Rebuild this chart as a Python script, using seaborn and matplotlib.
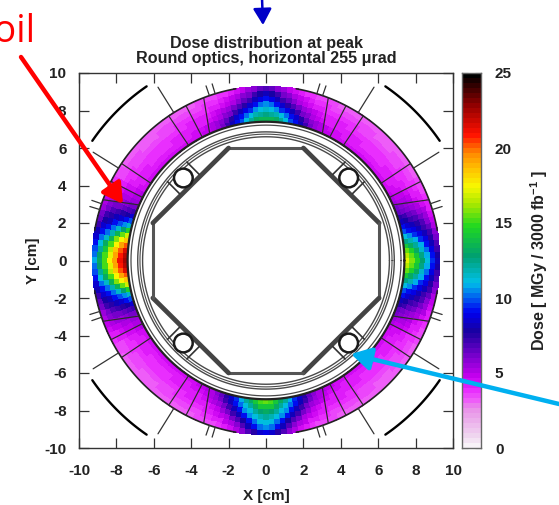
import numpy as np
import matplotlib

matplotlib.use("Agg")
import matplotlib.pyplot as plt
import seaborn as sns
from matplotlib.colors import LinearSegmentedColormap
from matplotlib.projections.polar import PolarTransform
from matplotlib.transforms import Affine2D

# dose, MGy / 3000 fb-1
# rows go from inner to outer radius, columns from 0 to 44 deg away from the lobe axis
left_lobe = [
    [22.5, 22.3, 21.5, 20.3, 18.6, 16.8, 14.5, 11.5, 9.8, 8.4, 7.0, 6.2, 5.6, 5.2, 5.0, 4.6, 4.5, 4.5, 4.4, 4.4, 4.4, 4.4, 4.4],
    [21.0, 20.8, 20.2, 19.0, 17.5, 15.4, 12.8, 10.6, 9.2, 7.9, 6.8, 6.0, 5.5, 5.1, 4.8, 4.4, 4.3, 4.3, 4.2, 4.2, 4.2, 4.1, 4.1],
    [19.3, 19.1, 18.5, 17.5, 15.9, 13.6, 11.4, 9.8, 8.6, 7.5, 6.5, 5.8, 5.3, 4.9, 4.6, 4.2, 4.1, 4.1, 4.0, 4.0, 3.9, 3.9, 3.9],
    [17.5, 17.2, 16.5, 15.2, 13.5, 11.7, 10.2, 9.0, 8.0, 7.1, 6.2, 5.6, 5.1, 4.7, 4.4, 4.0, 3.9, 3.9, 3.8, 3.8, 3.7, 3.7, 3.7],
    [15.3, 15.0, 14.2, 13.0, 11.5, 10.3, 9.3, 8.3, 7.5, 6.7, 6.0, 5.4, 4.9, 4.5, 4.2, 3.8, 3.7, 3.7, 3.6, 3.6, 3.5, 3.5, 3.5],
    [13.2, 12.8, 12.0, 11.0, 10.0, 9.2, 8.4, 7.7, 7.0, 6.3, 5.7, 5.1, 4.7, 4.3, 4.0, 3.6, 3.5, 3.5, 3.4, 3.4, 3.4, 3.3, 3.3],
    [10.8, 10.3, 9.8, 9.2, 8.6, 8.0, 7.2, 6.5, 6.0, 5.5, 5.1, 4.7, 4.4, 4.1, 3.9, 3.5, 3.4, 3.3, 3.2, 3.2, 3.1, 3.1, 3.1],
]
right_lobe = [
    [17.0, 16.6, 15.6, 14.2, 12.6, 11.0, 9.8, 9.0, 8.2, 7.4, 6.6, 6.0, 5.5, 5.1, 4.8, 4.6, 4.5, 4.5, 4.4, 4.4, 4.4, 4.4, 4.4],
    [15.8, 15.4, 14.4, 13.2, 11.8, 10.4, 9.3, 8.5, 7.7, 7.0, 6.3, 5.7, 5.2, 4.9, 4.6, 4.4, 4.3, 4.3, 4.2, 4.2, 4.2, 4.1, 4.1],
    [14.5, 14.0, 13.2, 12.0, 10.8, 9.6, 8.8, 8.0, 7.2, 6.5, 5.9, 5.4, 5.0, 4.7, 4.4, 4.2, 4.1, 4.1, 4.0, 4.0, 3.9, 3.9, 3.9],
    [12.8, 12.4, 11.6, 10.7, 9.6, 8.8, 8.1, 7.4, 6.7, 6.0, 5.5, 5.0, 4.7, 4.4, 4.2, 4.0, 3.9, 3.9, 3.8, 3.8, 3.7, 3.7, 3.7],
    [11.2, 10.8, 10.0, 9.3, 8.7, 8.0, 7.3, 6.7, 6.0, 5.5, 5.0, 4.6, 4.3, 4.1, 3.9, 3.8, 3.7, 3.7, 3.6, 3.6, 3.5, 3.5, 3.5],
    [9.5, 9.2, 8.7, 8.2, 7.6, 7.0, 6.4, 5.9, 5.4, 5.0, 4.6, 4.3, 4.0, 3.9, 3.7, 3.6, 3.5, 3.5, 3.4, 3.4, 3.4, 3.3, 3.3],
    [8.0, 7.7, 7.3, 6.8, 6.3, 5.8, 5.3, 4.9, 4.5, 4.2, 4.0, 3.8, 3.6, 3.5, 3.4, 3.3, 3.3, 3.2, 3.2, 3.2, 3.1, 3.1, 3.1],
]
top_lobe = [
    [13.5, 13.4, 13.0, 12.0, 11.0, 9.8, 9.0, 8.0, 7.0, 6.2, 5.6, 5.2, 4.9, 4.7, 4.6, 4.6, 4.5, 4.5, 4.4, 4.4, 4.4, 4.4, 4.4],
    [12.5, 12.3, 11.8, 11.0, 10.0, 9.3, 8.4, 7.4, 6.6, 5.9, 5.4, 5.0, 4.7, 4.5, 4.4, 4.4, 4.3, 4.3, 4.2, 4.2, 4.2, 4.1, 4.1],
    [11.6, 11.2, 10.5, 9.6, 8.9, 8.0, 7.1, 6.3, 5.7, 5.2, 4.8, 4.5, 4.3, 4.2, 4.2, 4.2, 4.1, 4.1, 4.0, 4.0, 3.9, 3.9, 3.9],
    [10.6, 10.0, 9.3, 8.5, 7.6, 6.8, 6.1, 5.5, 5.0, 4.7, 4.4, 4.2, 4.1, 4.0, 4.0, 4.0, 3.9, 3.9, 3.8, 3.8, 3.7, 3.7, 3.7],
    [9.3, 8.9, 8.1, 7.3, 6.5, 5.9, 5.3, 4.9, 4.5, 4.3, 4.1, 3.9, 3.8, 3.8, 3.8, 3.8, 3.7, 3.7, 3.6, 3.6, 3.5, 3.5, 3.5],
    [8.2, 7.8, 7.1, 6.3, 5.7, 5.1, 4.7, 4.4, 4.1, 3.9, 3.8, 3.7, 3.6, 3.6, 3.6, 3.6, 3.5, 3.5, 3.4, 3.4, 3.4, 3.3, 3.3],
    [6.8, 6.4, 5.9, 5.4, 4.9, 4.5, 4.2, 3.9, 3.7, 3.6, 3.5, 3.4, 3.4, 3.3, 3.3, 3.3, 3.3, 3.2, 3.2, 3.2, 3.1, 3.1, 3.1],
]
bottom_lobe = [
    [15.5, 15.0, 14.0, 13.0, 12.0, 10.8, 9.6, 8.6, 7.6, 6.6, 5.8, 5.3, 5.0, 4.8, 4.7, 4.6, 4.5, 4.5, 4.4, 4.4, 4.4, 4.4, 4.4],
    [14.3, 14.0, 13.2, 12.2, 11.2, 10.1, 9.0, 8.0, 7.0, 6.1, 5.5, 5.0, 4.7, 4.5, 4.4, 4.4, 4.3, 4.3, 4.2, 4.2, 4.2, 4.1, 4.1],
    [13.2, 12.9, 12.2, 11.3, 10.4, 9.3, 8.2, 7.2, 6.2, 5.5, 5.0, 4.7, 4.4, 4.3, 4.2, 4.2, 4.1, 4.1, 4.0, 4.0, 3.9, 3.9, 3.9],
    [12.0, 11.7, 11.0, 10.4, 9.2, 8.1, 7.0, 6.0, 5.4, 4.9, 4.5, 4.3, 4.1, 4.0, 4.0, 4.0, 3.9, 3.9, 3.8, 3.8, 3.7, 3.7, 3.7],
    [11.3, 11.0, 10.3, 9.2, 7.9, 6.9, 6.0, 5.3, 4.8, 4.5, 4.2, 4.0, 3.9, 3.8, 3.8, 3.8, 3.7, 3.7, 3.6, 3.6, 3.5, 3.5, 3.5],
    [10.6, 10.2, 9.2, 8.0, 6.9, 5.9, 5.2, 4.7, 4.3, 4.0, 3.8, 3.7, 3.6, 3.6, 3.6, 3.6, 3.5, 3.5, 3.4, 3.4, 3.4, 3.3, 3.3],
    [8.8, 8.4, 7.6, 6.7, 5.8, 5.1, 4.5, 4.1, 3.8, 3.6, 3.5, 3.4, 3.4, 3.3, 3.3, 3.3, 3.3, 3.2, 3.2, 3.2, 3.1, 3.1, 3.1],
]

axis_ticks = [-10, -8, -6, -4, -2, 0, 2, 4, 6, 8, 10]
dose_ticks = [0, 5, 10, 15, 20, 25]

# palette stops
palette_values = [0, 0.5, 2.5, 3.0, 3.8, 4.6, 5.9, 7.7, 9, 10, 11, 12.8, 14.8, 16.3, 17.5, 18.7, 19.7, 21, 23, 25]
palette_colors = [
    "#f8f2f8", "#f0dcf0", "#e890e8", "#ee60f8", "#e828ff", "#c800f0", "#8000d0", "#1800a0", "#0000f0",
    "#0060f0", "#00c0e8", "#00a070", "#20d820", "#a8e800", "#f8f800", "#ffc000", "#ff8c00",
    "#ff1000", "#900000", "#000000",
]

R_IN, R_OUT = 7.4, 9.3
ANGLE_STEP = 2.0
FRAME = "#333333"
STEEL = "#4a4a4a"
INK = "#222222"
FONT_SIZE = 11.0


def mirror(lobe):
    lobe = np.array(lobe)
    return np.hstack([lobe[:, :0:-1], lobe])


def pol(r, deg):
    return r * np.cos(np.radians(deg)), r * np.sin(np.radians(deg))


def quadrant_angles(deg):
    return [deg, 180 - deg, 180 + deg, 360 - deg]


def draw_ring(ax, dose, cmap):
    # heatmap columns are angle bins, rows radial bins: bend the grid round the bore
    sns.heatmap(dose, ax=ax, cmap=cmap, vmin=0, vmax=25, cbar=False,
                xticklabels=False, yticklabels=False, rasterized=True)
    dr = (R_OUT - R_IN) / dose.shape[0]
    bend = (
        Affine2D().scale(np.radians(ANGLE_STEP), dr).translate(np.radians(-45), R_IN)
        + PolarTransform(apply_theta_transforms=False)
        + ax.transData
    )
    ax.collections[0].set_transform(bend)
    ax.collections[0].set_zorder(1)


def draw_structure(ax):
    t = np.radians(np.linspace(0, 360, 361))
    for r, lw, color in [(R_IN, 1.6, "#222222"), (7.22, 0.9, STEEL), (6.86, 1.0, STEEL),
                         (6.74, 0.8, STEEL), (6.6, 1.0, STEEL)]:
        ax.plot(r * np.cos(t), r * np.sin(t), color=color, lw=lw, zorder=3)

    # outer outline of the ring, open where the lobes sit
    for centre in [0, 90, 180, 270]:
        t = np.radians(np.linspace(centre + 10, centre + 80, 80))
        ax.plot(R_OUT * np.cos(t), R_OUT * np.sin(t), color="#222222", lw=1.2, zorder=3)

    # collar sectors across the ring
    for inner, outer in [(23.6, 20.4), (27, 27), (33.8, 33.8), (56, 56), (62.6, 62.6), (66, 69)]:
        for a_in, a_out in zip(quadrant_angles(inner), quadrant_angles(outer)):
            x0, y0 = pol(R_IN, a_in)
            x1, y1 = pol(R_OUT, a_out)
            ax.plot([x0, x1], [y0, y1], color="#2a2a2a", lw=0.85, zorder=3)

    # stubs and long spokes outside the ring, thick outer arcs
    for deg, r_end, lw in [(17, 9.85, 0.9), (19, 9.85, 0.9), (71, 9.85, 0.9), (73, 9.85, 0.9),
                           (32, 10.9, 0.9), (58, 10.9, 0.9)]:
        for a in quadrant_angles(deg):
            x0, y0 = pol(R_OUT, a)
            x1, y1 = pol(r_end, a)
            ax.plot([x0, x1], [y0, y1], color="#333333", lw=lw, zorder=3)
    for start in quadrant_angles(34.5):
        sweep = 21 if start in (34.5, 214.5) else -21
        t = np.radians(np.linspace(start, start + sweep, 40))
        ax.plot(11.27 * np.cos(t), 11.27 * np.sin(t), color="black", lw=1.7, zorder=3)

    # octagonal beam screen
    oct_x = [-2, 2, 6.05, 6.05, 2, -2, -6.05, -6.05, -2]
    oct_y = [6, 6, 2, -2, -6, -6, -2, 2, 6]
    for i in range(8):
        diagonal = oct_x[i] != oct_x[i + 1] and oct_y[i] != oct_y[i + 1]
        ax.plot(oct_x[i:i + 2], oct_y[i:i + 2], color="#444444" if diagonal else "#555555",
                lw=3.4 if diagonal else 2.2, zorder=3, solid_capstyle="round")

    # cooling pipes sitting behind the diagonals
    for sx in (-1, 1):
        for sy in (-1, 1):
            cx, cy = sx * 4.42, sy * 4.4
            for side in (-1, 1):
                ax.plot([cx + side * 0.52 * sx - 0.33 * sx, cx + side * 0.52 * sx + 0.33 * sx],
                        [cy - side * 0.52 * sy - 0.33 * sy, cy - side * 0.52 * sy + 0.33 * sy],
                        color="#333333", lw=1.2, zorder=3)
            ax.add_patch(plt.Circle((cx, cy), 0.5, facecolor="white", edgecolor="#1a1a1a",
                                    lw=1.8, zorder=4))


def style_map_axis(ax):
    ax.set_xlim(-10, 10)
    ax.set_ylim(-10, 10)
    ax.set_xticks(axis_ticks)
    ax.set_yticks(axis_ticks)
    ax.set_xticklabels([str(v) for v in axis_ticks])
    ax.set_yticklabels([str(v) for v in axis_ticks], rotation=0)
    ax.tick_params(direction="in", length=7, width=0.9, top=True, right=True, color=FRAME,
                   labelsize=FONT_SIZE, labelcolor=INK)
    ax.tick_params(axis="x", pad=11.5)
    ax.tick_params(axis="y", pad=9)
    ax.set_xlabel("X [cm]", fontsize=FONT_SIZE, fontweight="bold", labelpad=8, color=INK)
    ax.set_ylabel("Y [cm]", fontsize=FONT_SIZE, fontweight="bold", labelpad=3, color=INK)
    ax.set_title("Dose distribution at peak\nRound optics, horizontal 255 \u03bcrad",
                 fontsize=11.6, fontweight="bold", pad=7, linespacing=1.05, color=INK)
    for spine in ax.spines.values():
        spine.set_visible(True)
        spine.set_color(FRAME)
        spine.set_linewidth(1.0)
        spine.set_zorder(5)


def draw_color_box(cax, cmap):
    levels = (np.arange(75) + 0.5) / 3
    sns.heatmap(levels.reshape(-1, 1), ax=cax, cmap=cmap, vmin=0, vmax=25, cbar=False,
                xticklabels=False, yticklabels=False)
    cax.set_ylim(0, 75)
    cax.set_yticks([v * 3 for v in dose_ticks])
    cax.set_yticklabels([str(v) for v in dose_ticks], rotation=0)
    cax.yaxis.tick_right()
    cax.tick_params(axis="y", direction="in", length=4.5, width=0.8, left=True, right=True,
                    color="#333333", labelsize=FONT_SIZE, pad=10, labelcolor=INK)
    cax.tick_params(axis="x", bottom=False)
    cax.yaxis.set_label_position("right")
    cax.set_ylabel(r"Dose [ MGy / 3000 fb$^{\mathbf{-1}}$ ]", fontsize=11.5, fontweight="bold",
                   labelpad=12, color=INK)
    for spine in cax.spines.values():
        spine.set_visible(True)
        spine.set_color("#666666")
        spine.set_linewidth(1.0)


def add_callouts(fig):
    # slide annotations sit on top of the plot, in image pixels
    over = fig.add_axes([0, 0, 1, 1], facecolor="none")
    over.set_xlim(0, 559)
    over.set_ylim(505, 0)
    over.axis("off")
    over.text(36, 42, "Coil", color="#ff0000", fontsize=27, ha="right", va="baseline",
              family="Open Sans", fontweight="normal")
    for tail, tip, color, lw, head in [
        ((21, 57), (123, 204), "#ff0000", 3.2, 17),
        ((559, 404), (351, 354), "#00b0f0", 3.2, 17),
        ((262, -2), (263, 25), "#0000c8", 1.8, 14),
    ]:
        over.annotate("", xy=tip, xytext=tail, annotation_clip=False,
                      arrowprops=dict(arrowstyle="-|>,head_length=0.7,head_width=0.4", color=color,
                                      lw=lw, mutation_scale=head, shrinkA=0, shrinkB=0))


def main():
    sns.set_theme(style="ticks")
    plt.rcParams["font.family"] = ["Liberation Sans", "DejaVu Sans"]
    plt.rcParams["mathtext.fontset"] = "custom"
    plt.rcParams["mathtext.bf"] = "Liberation Sans:bold"
    plt.rcParams["font.weight"] = "bold"
    plt.rcParams["axes.labelweight"] = "bold"

    stops = [(v / 25, c) for v, c in zip(palette_values, palette_colors)]
    cmap = LinearSegmentedColormap.from_list("dose", stops, N=75)

    # centred on right, top, left and bottom lobes, starting at -45 deg
    dose = np.hstack([mirror(right_lobe), mirror(top_lobe), mirror(left_lobe), mirror(bottom_lobe)])

    fig = plt.figure(figsize=(5.59, 5.05), dpi=100)
    ax = fig.add_axes([79 / 559, 57 / 505, 374 / 559, 375 / 505])
    cax = fig.add_axes([462 / 559, 57 / 505, 19 / 559, 375 / 505])

    draw_ring(ax, dose, cmap)
    draw_structure(ax)
    style_map_axis(ax)
    draw_color_box(cax, cmap)
    add_callouts(fig)

    fig.savefig("out.png", dpi=100)
    plt.close(fig)


if __name__ == "__main__":
    main()
